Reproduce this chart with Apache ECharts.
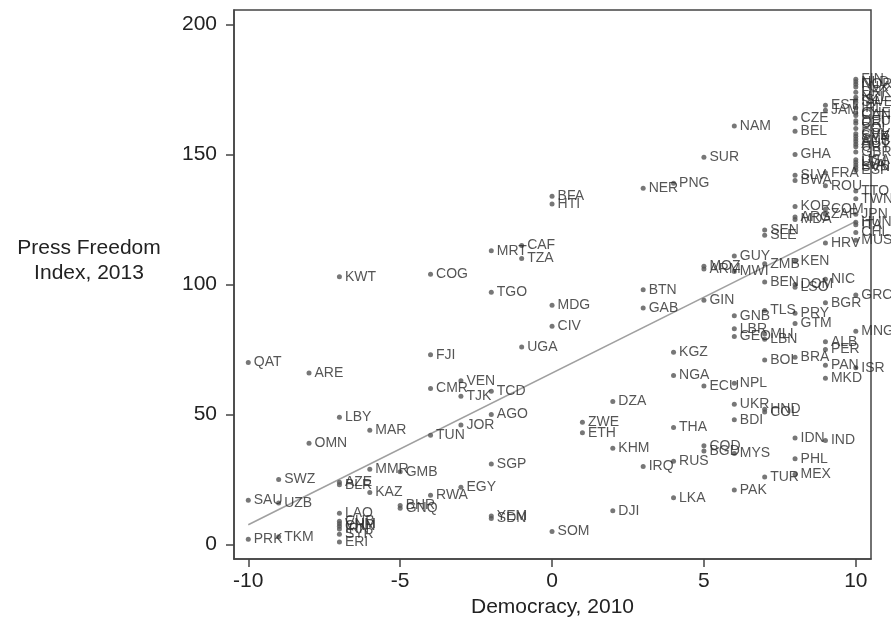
<!DOCTYPE html>
<html>
<head>
<meta charset="utf-8">
<script src="https://cdn.jsdelivr.net/npm/echarts@6/dist/echarts.min.js"></script>
<style>
  html, body { margin: 0; padding: 0; background: #fff; }
  #chart { width: 891px; height: 623px; }
</style>
</head>
<body>
<div id="chart"></div>
<script>
// country codes, Polity democracy score 2010, press freedom index 2013
const codes = [
  'QAT','SAU','PRK',
  'SWZ','UZB','TKM',
  'ARE','OMN',
  'KWT','LBY','AZE','BLR','LAO','CUB','VNM','CHN','IRN','SYR','ERI',
  'MAR','MMR','KAZ',
  'GMB','BHR','GNQ',
  'COG','FJI','CMR','TUN','RWA',
  'VEN','TJK','JOR','EGY',
  'MRT','TGO','TCD','AGO','SGP','YEM','SDN',
  'CAF','TZA','UGA',
  'BFA','HTI','MDG','CIV','SOM',
  'ZWE','ETH',
  'DZA','KHM','DJI',
  'NER','BTN','GAB','IRQ',
  'PNG','KGZ','NGA','THA','RUS','LKA',
  'SUR','MOZ','ARM','GIN','ECU','COD','BGD',
  'NAM','GUY','MWI','GNB','LBR','GEO','NPL','UKR','BDI','MYS','PAK',
  'SEN','SLE','ZMB','BEN','TLS','MLI','LBN','BOL','HND','COL','TUR',
  'CZE','BEL','GHA','SLV','BWA','KOR','ARG','MDA','KEN','DOM','LSO','PRY','GTM','BRA','IDN','PHL','MEX',
  'EST','JAM','FRA','ROU','COM','ZAF','HRV','NIC','BGR','ALB','PER','PAN','MKD','IND',
  'FIN','NLD','NOR','LUX','DNK','NZL','ISL','SWE','IRL','CHE','CAN','DEU','CRI','POL','CPV','SVK',
  'CYP','AUS','AUT','URY','GBR','USA','LTU','LVA','SVN','ESP','TTO','TWN','JPN','HUN','ITA','CHL',
  'MUS','GRC','MNG','ISR'
];
const democracy = [
  -10,-10,-10,
  -9,-9,-9,
  -8,-8,
  -7,-7,-7,-7,-7,-7,-7,-7,-7,-7,-7,
  -6,-6,-6,
  -5,-5,-5,
  -4,-4,-4,-4,-4,
  -3,-3,-3,-3,
  -2,-2,-2,-2,-2,-2,-2,
  -1,-1,-1,
  0,0,0,0,0,
  1,1,
  2,2,2,
  3,3,3,3,
  4,4,4,4,4,4,
  5,5,5,5,5,5,5,
  6,6,6,6,6,6,6,6,6,6,6,
  7,7,7,7,7,7,7,7,7,7,7,
  8,8,8,8,8,8,8,8,8,8,8,8,8,8,8,8,8,
  9,9,9,9,9,9,9,9,9,9,9,9,9,9,
  10,10,10,10,10,10,10,10,10,10,10,10,10,10,10,10,
  10,10,10,10,10,10,10,10,10,10,10,10,10,10,10,10,
  10,10,10,10
];
const pressFreedom = [
  70,17,2,
  25,16,3,
  66,39,
  103,49,24,23,12,9,8,7,6,4,1,
  44,29,20,
  28,15,14,
  104,73,60,42,19,
  63,57,46,22,
  113,97,59,50,31,11,10,
  115,110,76,
  134,131,92,84,5,
  47,43,
  55,37,13,
  137,98,91,30,
  139,74,65,45,32,18,
  149,107,106,94,61,38,36,
  161,111,105,88,83,80,62,54,48,35,21,
  121,119,108,101,90,81,79,71,52,51,26,
  164,159,150,142,140,130,126,125,109,100,99,89,85,72,41,33,27,
  169,167,143,138,129,127,116,102,93,78,75,69,64,40,
  179,178,177,176,174,172,171,170,168,166,165,163,162,160,158,157,
  156,155,154,153,151,148,147,146,145,144,136,133,127,124,123,120,
  117,96,82,68
];
// fitted line, read at its two ends
const fitX = [-10, 10];
const fitY = [7.6, 124.3];

const xTicks = [-10, -5, 0, 5, 10];
const yTicks = [0, 50, 100, 150, 200];

const chart = echarts.init(document.getElementById('chart'));

const points = codes.map((c, i) => ({ name: c, value: [democracy[i], pressFreedom[i]] }));
const fitLine = fitX.map((x, i) => [x, fitY[i]]);

const FONT = 'Liberation Sans, Arial, sans-serif';

const option = {
  animation: false,
  backgroundColor: '#fff',
  grid: {
    left: 234, right: 20, top: 10, bottom: 60,
    show: true, borderColor: '#444', borderWidth: 1.5
  },
  xAxis: {
    type: 'value',
    min: -10.47, max: 10.5,
    name: 'Democracy, 2010',
    nameLocation: 'middle',
    nameGap: 35,
    nameTextStyle: { fontFamily: FONT, fontSize: 21, color: '#222' },
    axisLine: { show: true, onZero: false, lineStyle: { color: '#444', width: 1.5 } },
    axisTick: { show: true, length: 8, customValues: xTicks, lineStyle: { color: '#444', width: 1.5 } },
    axisLabel: { customValues: xTicks, margin: 12, fontFamily: FONT, fontSize: 21, color: '#222' },
    splitLine: { show: false }
  },
  yAxis: {
    type: 'value',
    min: -5.6, max: 205.6,
    axisLine: { show: true, onZero: false, lineStyle: { color: '#444', width: 1.5 } },
    axisTick: { show: true, length: 8, customValues: yTicks, lineStyle: { color: '#444', width: 1.5 } },
    axisLabel: { customValues: yTicks, margin: 17, fontFamily: FONT, fontSize: 21, color: '#222' },
    splitLine: { show: false }
  },
  graphic: [{
    type: 'text',
    x: 89, y: 261,
    style: {
      text: 'Press Freedom\nIndex, 2013',
      fontFamily: FONT, fontSize: 21, fill: '#222',
      align: 'center', verticalAlign: 'middle', lineHeight: 25
    }
  }],
  series: [
    {
      type: 'line',
      data: fitLine,
      symbol: 'none',
      z: 1,
      lineStyle: { color: '#a0a0a0', width: 1.6 }
    },
    {
      type: 'scatter',
      data: points,
      symbolSize: 5,
      z: 2,
      itemStyle: { color: '#555' },
      label: {
        show: true,
        position: 'right',
        distance: 3,
        formatter: '{b}',
        fontFamily: FONT,
        fontSize: 14,
        color: '#2a2a2a'
      }
    }
  ]
};

chart.setOption(option);
</script>
</body>
</html>
